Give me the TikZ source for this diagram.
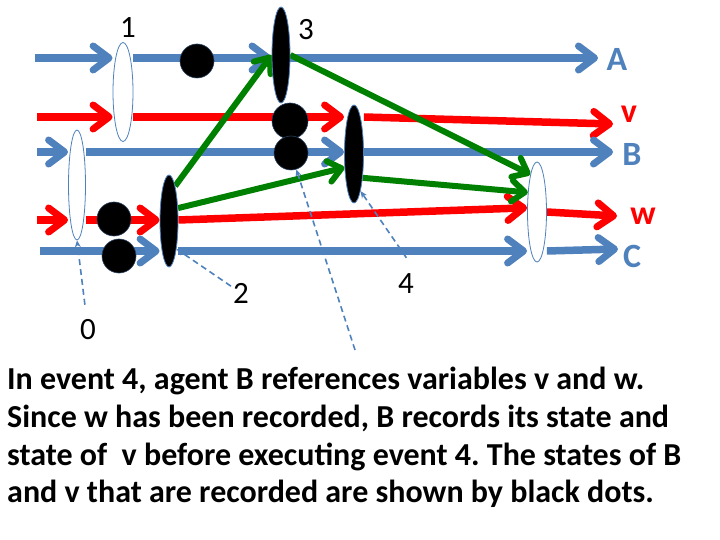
\documentclass[tikz,border=0pt]{standalone}
\usepackage{fontspec}
\setmainfont{Carlito}
\usetikzlibrary{shapes.geometric,arrows.meta,backgrounds}
\definecolor{lineblue}{RGB}{79,129,189}
\definecolor{arrgreen}{RGB}{0,128,0}
\begin{document}
\frenchspacing
\begin{tikzpicture}[x=1pt,y=-1pt,
    blueline/.style={draw=lineblue,line width=7.5pt,-{Straight Barb[length=16pt,width=24pt,line width=7pt,round]}},
    redline/.style={draw=red,line width=7.5pt,-{Straight Barb[length=16pt,width=24pt,line width=7pt,round]}},
    greenline/.style={draw=arrgreen,line width=6pt,-{Straight Barb[length=13pt,width=21pt,line width=6pt,round]}},
    pointer/.style={draw=lineblue,line width=1.6pt,dash pattern=on 6pt off 4pt,-{Stealth[length=7pt,width=6pt]}},
    event/.style={ellipse,draw=lineblue,line width=0.8pt,inner sep=0pt},
    dot/.style={circle,fill=black,draw=lineblue!50!black,line width=0.6pt,inner sep=0pt,minimum size=34pt},
    num/.style={inner sep=2pt,font=\fontsize{31}{31}\selectfont},
    agent/.style={font=\bfseries\fontsize{34}{34}\selectfont}]
        \useasboundingbox (0,0) rectangle (720,540);
        % events
        \node[event,fill=white,minimum width=17pt,minimum height=110pt] (ev0) at (77,185) {};
        \node[event,fill=white,minimum width=20pt,minimum height=99pt] (ev1) at (123,92) {};
        \node[event,fill=black,minimum width=18pt,minimum height=92pt] (ev2) at (169,221) {};
        \node[event,fill=black,minimum width=18pt,minimum height=96pt] (ev3) at (281,55) {};
        \node[event,fill=black,minimum width=19pt,minimum height=98pt] (ev4) at (354,154) {};
        \node[event,fill=white,minimum width=19pt,minimum height=100pt] (ev5) at (537,212) {};
        % recorded states
        \node[dot] (dA) at (197,61) {};
        \node[dot] (dw) at (114,219) {};
        \node[dot] (dC) at (119,256) {};
        \node[dot,minimum size=36pt] (dv) at (290,121) {};
        \node[dot] (dB) at (291,153) {};
        % labels
        \node[num] (n1) at (128,28) {1};
        \node[num] (n3) at (306,30) {3};
        \node[num] (n0) at (88,330) {0};
        \node[num] (n2) at (241,293) {2};
        \node[num] (n4) at (406,284) {4};
        \node[agent,text=lineblue] (lA) at (617,59) {A};
        \node[agent,text=red] (lv) at (629,114) {v};
        \node[agent,text=lineblue] (lB) at (632,154) {B};
        \node[agent,text=red] (lw) at (643,216) {w};
        \node[agent,text=lineblue] (lC) at (632,256) {C};
        \coordinate (A0) at (35,58);  \coordinate (A1) at (598,58);
        \coordinate (v0) at (37,117); \coordinate (v1) at (613,124);
        \coordinate (B0) at (37,152); \coordinate (B1) at (613,152);
        \coordinate (w0) at (37,220); \coordinate (w1) at (617,216);
        \coordinate (C0) at (40,251); \coordinate (C1) at (618,249);
        \coordinate (tail) at (355,350);
        \begin{scope}[on background layer]
            \draw[blueline] (A0) -- (A0 -| ev1.west);
            \draw[blueline] (ev1.east |- A0) -- (A0 -| ev3.west);
            \draw[blueline] (ev3.east |- A0) -- (A1);
            \draw[redline] (v0) -- (v0 -| ev1.west);
            \draw[redline] (ev1.east |- v0) -- (v0 -| ev4.west);
            \draw[redline] (ev4.east |- v0) -- (v1);
            \draw[blueline] (B0) -- (B0 -| ev0.west);
            \draw[blueline] (ev0.east |- B0) -- (B0 -| ev4.west);
            \draw[blueline] (ev4.east |- B0) -- (B1);
            \draw[redline] (w0) -- (w0 -| ev0.west);
            \draw[redline] (ev0.east |- w0) -- (w0 -| ev2.west);
            \draw[redline] (ev2.east |- w0) -- (ev5.157);
            \draw[redline] (ev5.east) -- (w1);
            \draw[blueline] (C0) -- (C0 -| ev2.west);
            \draw[blueline] (ev2.east |- C0) -- (C0 -| ev5.west);
            \draw[blueline] (ev5.east |- C0) -- (C1);
            \draw[greenline] (ev2.80) -- (ev3.west);
            \draw[greenline] (ev2.55) -- (ev4.235);
            \draw[greenline] (ev4.290) -- (ev5.115);
            \draw[greenline] (ev3.east) -- (ev5.100);
        \end{scope}
        \draw[pointer,shorten <=13pt] (n0) -- (ev0.south);
        \draw[pointer] (n2) -- (ev2.285);
        \draw[pointer,shorten <=17pt] (n4.north east) -- (ev4.280);
        \draw[pointer] (tail) -- (dB);
        \node[anchor=north west,inner sep=0pt,align=left,font=\bfseries\fontsize{32}{37.7}\selectfont] (note) at (7,367)
            {In event 4, agent B references variables v and w.\\
             Since w has been recorded, B records its state and\\
             state of~ v before executing event 4. The states of B\\
             and v that are recorded are shown by black dots.};
    \end{tikzpicture}
\end{document}
